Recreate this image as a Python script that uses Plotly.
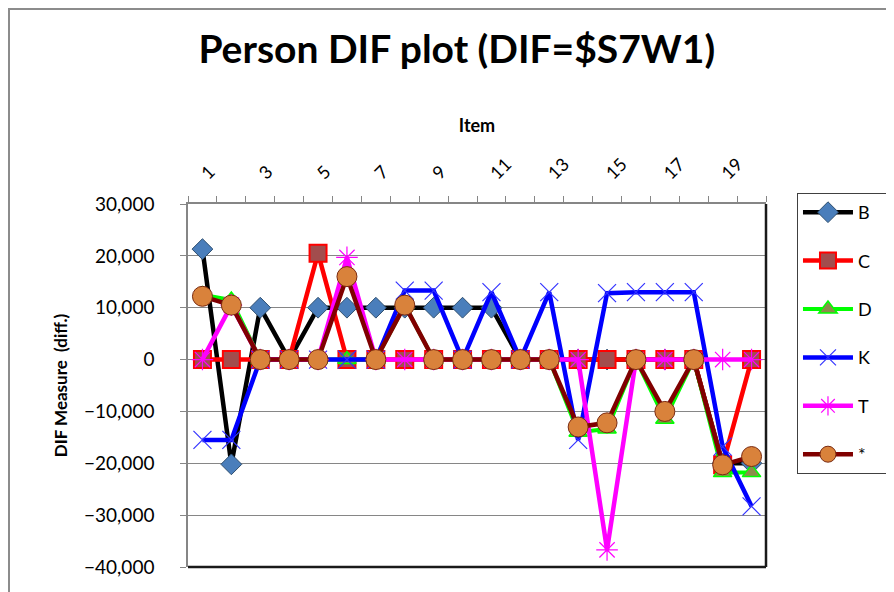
import plotly.graph_objects as go

items = list(range(1, 21))
tick_items = [1, 3, 5, 7, 9, 11, 13, 15, 17, 19]

series_names = ["B", "C", "D", "K", "T", "*"]
B = [21300, -20200, 10000, 0, 10000, 10000, 10000, 10000, 10000, 10000,
     10000, 0, 0, 0, 0, 0, 0, 0, -20000, -20000]
C = [0, 0, 0, 0, 20500, 0, 0, 0, 0, 0,
     0, 0, 0, 0, 0, 0, 0, 0, -20300, 0]
D = [12500, 11500, 0, 0, 0, 0, 0, 10500, 0, 0,
     0, 0, 0, -14000, -13400, 0, -11500, 0, -21800, -21800]
K = [-15500, -15500, 0, 0, 0, 0, 0, 13300, 13300, 0,
     13000, 0, 13000, -15500, 12800, 13000, 13000, 13000, -16800, -28300]
T = [0, 10500, 0, 0, 0, 19700, 0, 0, 0, 0,
     0, 0, 0, 0, -36700, 0, 0, 0, 0, 0]
STAR = [12200, 10500, 0, 0, 0, 16000, 0, 10500, 0, 0,
        0, 0, 0, -13000, -12200, 0, -10000, 0, -20300, -18700]

y_ticks = [30000, 20000, 10000, 0, -10000, -20000, -30000, -40000]

styles = [
    dict(line=dict(color="#000000", width=4.5),
         marker=dict(symbol="diamond", size=16, color="#4A7EBB",
                     line=dict(color="#2F4F6F", width=1))),
    dict(line=dict(color="#FF0000", width=4.5),
         marker=dict(symbol="square", size=17, color="#A24D4D",
                     line=dict(color="#FF0000", width=2))),
    dict(line=dict(color="#00FF00", width=4),
         marker=dict(symbol="triangle-up", size=16, color="#8C8C4A",
                     line=dict(color="#00FF00", width=1.5))),
    dict(line=dict(color="#0000FF", width=4.5),
         marker=dict(symbol="x-thin", size=18, color="#0000FF",
                     line=dict(color="#3333FF", width=1.2))),
    dict(line=dict(color="#FF00FF", width=4.5),
         marker=dict(symbol="asterisk", size=18, color="#FF00FF",
                     line=dict(color="#FF00FF", width=1.2))),
    dict(line=dict(color="#800000", width=4.5),
         marker=dict(symbol="circle", size=20, color="#D9823B",
                     line=dict(color="#7A2A10", width=1))),
]

data = [B, C, D, K, T, STAR]

fig = go.Figure()
for name, vals, st in zip(series_names, data, styles):
    fig.add_trace(go.Scatter(
        x=items, y=vals, name=name + "&nbsp;&nbsp;", mode="lines+markers",
        legendgroup=name, cliponaxis=False,
        line=st["line"], marker=st["marker"]))

fig.update_layout(
    width=894, height=592,
    margin=dict(l=180, r=136, t=196, b=33, autoexpand=False),
    paper_bgcolor="white", plot_bgcolor="white",
    font=dict(family="Lato, Open Sans, sans-serif", color="#000000"),
    title=dict(text="<b>Person DIF plot (DIF=$S7W1)</b>",
               x=0.502, xanchor="center", y=0.93, yanchor="middle",
               font=dict(size=39, family="Lato, sans-serif", color="#000000")),
    showlegend=True,
    legend=dict(x=1.0536, y=1.0303, xanchor="left", yanchor="top",
                bordercolor="#404040", borderwidth=1, bgcolor="white",
                font=dict(size=18, color="#000000"),
                tracegroupgap=22, traceorder="grouped",
                itemwidth=50, maxheight=1.0),
    xaxis=dict(
        side="top", range=[0.5, 20.5], automargin=False,
        tickmode="array", tickvals=tick_items,
        ticktext=[str(v) for v in tick_items],
        tickangle=-45, ticks="", ticklabelstandoff=12,
        minor=dict(ticks="outside", tick0=0.5, dtick=1, ticklen=6,
                   tickcolor="#868686", showgrid=False),
        showline=True, linecolor="#868686", linewidth=1.5,
        showgrid=False, zeroline=False,
        tickfont=dict(size=18, color="#000000"),
        title=dict(text="<b>Item</b>", font=dict(size=18), standoff=16),
    ),
    yaxis=dict(
        range=[-40000, 30000], tickmode="array", tickvals=y_ticks,
        automargin=False,
        tickformat=",", ticks="outside", ticklen=6, tickcolor="#868686",
        ticklabelstandoff=22,
        showline=True, linecolor="#868686", linewidth=1.5,
        showgrid=True, gridcolor="#868686", gridwidth=1,
        zeroline=False,
        tickfont=dict(size=19, color="#000000"),
        title=dict(text="<b>DIF Measure  (diff.)</b>", font=dict(size=17),
                   standoff=12),
    ),
    shapes=[
        dict(type="line", xref="paper", yref="paper", x0=1, x1=1, y0=0, y1=1,
             line=dict(color="#1A1A1A", width=2.5)),
        dict(type="line", xref="paper", yref="paper", x0=0, x1=1, y0=0, y1=0,
             line=dict(color="#1A1A1A", width=2.5)),
        dict(type="rect", xref="paper", yref="paper",
             x0=-0.3097, x1=1.4, y0=-0.2, y1=1.5372,
             line=dict(color="#8C8C8C", width=2), layer="below"),
    ],
)

fig.write_html("out.html")
